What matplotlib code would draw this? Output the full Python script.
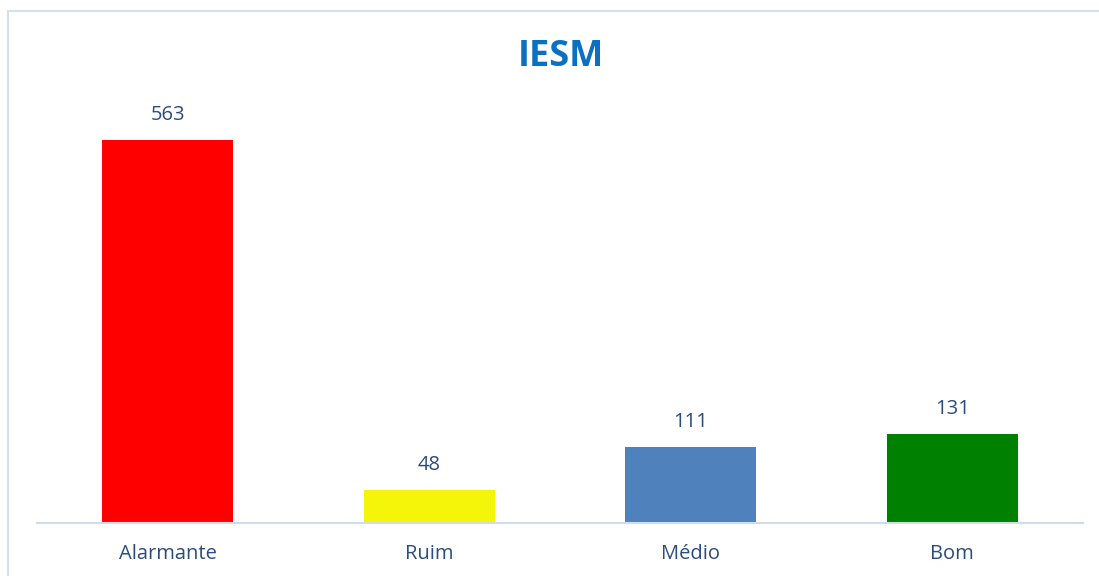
import matplotlib.pyplot as plt
from matplotlib.lines import Line2D

categories = ["Alarmante", "Ruim", "Médio", "Bom"]
values = [563, 48, 111, 131]
colors = ["#FF0000", "#F5F50A", "#4F81BD", "#008000"]

W, H = 1099, 576
fig = plt.figure(figsize=(W / 100, H / 100), dpi=100)
plt.rcParams['font.family'] = ['Open Sans', 'DejaVu Sans']

# chart frame (light blue border, cut off at right/bottom)
border = "#D5E0EF"
fig.add_artist(Line2D([8 / W, 1.0], [1 - 11 / H, 1 - 11 / H], color=border, lw=1.5))
fig.add_artist(Line2D([8 / W, 8 / W], [0, 1 - 11 / H], color=border, lw=1.5))

# axes: x from 37 to 1083 px, baseline at y=523 px, top at 100 px
left, right, base, top = 37, 1083, 523, 100
ax = fig.add_axes([left / W, 1 - base / H, (right - left) / W, (base - top) / H])
px_per_unit = (523 - 140) / 563
ax.set_xlim(-0.5, len(categories) - 0.5)
ax.set_ylim(0, (base - top) / px_per_unit)

x = range(len(categories))
bars = ax.bar(x, values, width=0.5, color=colors, edgecolor="none")

text_color = "#2B4C7E"
for xi, v in zip(x, values):
    ax.annotate(str(v), (xi, v), xytext=(0, 11), textcoords="offset points",
                ha="center", va="bottom", fontsize=14.5, color=text_color)

ax.set_xticks(list(x))
ax.set_xticklabels(categories, fontsize=14.5, color=text_color)
ax.tick_params(axis="x", length=0, pad=15)
ax.set_yticks([])
for s in ["top", "right", "left"]:
    ax.spines[s].set_visible(False)
ax.spines["bottom"].set_color("#D0DCEC")
ax.spines["bottom"].set_linewidth(1.5)

fig.text(561 / W, 1 - 57 / H, "IESM", ha="center", va="center",
         fontsize=26, fontweight="bold", color="#0A70C2")

fig.savefig("out.png", dpi=100, facecolor="white")
